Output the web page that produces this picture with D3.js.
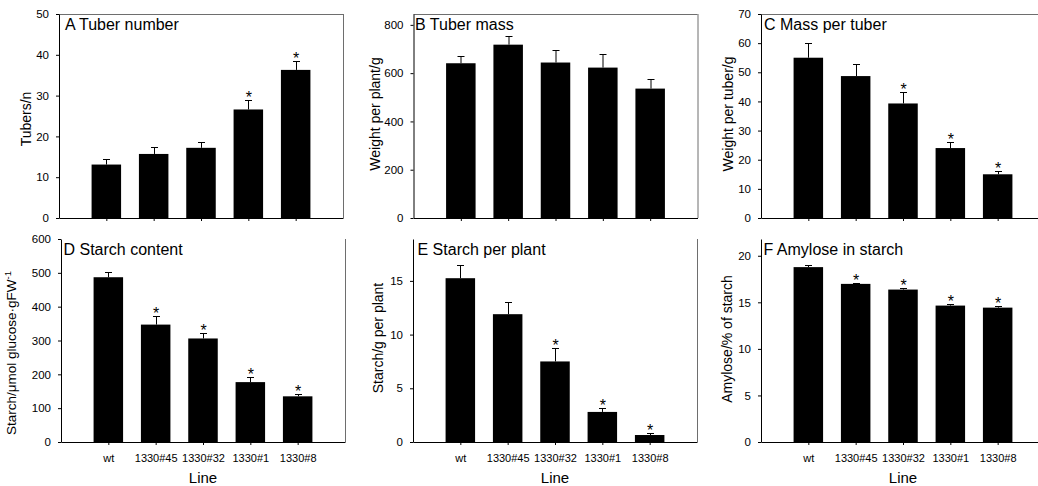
<!DOCTYPE html>
<html>
<head>
<meta charset="utf-8">
<script src="https://cdn.jsdelivr.net/npm/d3@7"></script>
<style>
  html, body { margin: 0; padding: 0; background: #fff; }
  svg { display: block; font-family: "Liberation Sans", Arial, sans-serif; }
</style>
</head>
<body>
<script>
// Transgenic potato lines compared with wild type
const lines = ["wt", "1330#45", "1330#32", "1330#1", "1330#8"];

// A: tuber number per plant
const tuberNumber = [13.1, 15.7, 17.2, 26.6, 36.3];
const tuberNumberErr = [1.3, 1.6, 1.4, 2.3, 2.1];
const tuberNumberSig = [false, false, false, true, true];
const tuberNumberTicks = [0, 10, 20, 30, 40, 50];

// B: tuber mass per plant (g)
const tuberMass = [641, 718, 644, 623, 536];
const tuberMassErr = [31, 34, 50, 56, 39];
const tuberMassSig = [false, false, false, false, false];
const tuberMassTicks = [0, 200, 400, 600, 800];

// C: mass per tuber (g)
const massPerTuber = [55.0, 48.7, 39.3, 24.0, 15.0];
const massPerTuberErr = [4.9, 4.0, 3.9, 2.0, 1.0];
const massPerTuberSig = [false, false, true, true, true];
const massPerTuberTicks = [0, 10, 20, 30, 40, 50, 60, 70];

// D: starch content (µmol glucose per g FW)
const starchContent = [487, 347, 306, 177, 135];
const starchContentErr = [14, 24, 16, 14, 7];
const starchContentSig = [false, true, true, true, true];
const starchContentTicks = [0, 100, 200, 300, 400, 500, 600];

// E: starch per plant (g)
const starchPerPlant = [15.25, 11.9, 7.5, 2.8, 0.65];
const starchPerPlantErr = [1.2, 1.1, 1.25, 0.4, 0.2];
const starchPerPlantSig = [false, false, true, true, true];
const starchPerPlantTicks = [0, 5, 10, 15];

// F: amylose in starch (%)
const amylose = [18.78, 16.98, 16.37, 14.65, 14.43];
const amyloseErr = [0.2, 0.12, 0.13, 0.15, 0.14];
const amyloseSig = [false, true, true, true, true];
const amyloseTicks = [0, 5, 10, 15, 20];

const W = 1038, H = 486;
const plotW = 284;

const panels = [
  { title: "A Tuber number", ylabel: "Tubers/n", values: tuberNumber, errors: tuberNumberErr, sig: tuberNumberSig, ticks: tuberNumberTicks, yMax: 50,
    left: 59, top: 14, h: 204, row: 0, titleDx: 6, ylabelDx: -33, ylabelCy: 119, ylabelSize: 14 },
  { title: "B Tuber mass", ylabel: "Weight per plant/g", values: tuberMass, errors: tuberMassErr, sig: tuberMassSig, ticks: tuberMassTicks, yMax: 845,
    left: 413.5, top: 14, h: 204, row: 0, titleDx: 1.5, ylabelDx: -38.5, ylabelCy: 114, ylabelSize: 14 },
  { title: "C Mass per tuber", ylabel: "Weight per tuber/g", values: massPerTuber, errors: massPerTuberErr, sig: massPerTuberSig, ticks: massPerTuberTicks, yMax: 70,
    left: 761, top: 14, h: 204, row: 0, titleDx: 3, ylabelDx: -33, ylabelCy: 114, ylabelSize: 14 },
  { title: "D Starch content", ylabel: "Starch/\u03bcmol glucose\u00b7gFW", ylabelSup: "-1", values: starchContent, errors: starchContentErr, sig: starchContentSig, ticks: starchContentTicks, yMax: 600,
    left: 61, top: 239, h: 203, row: 1, titleDx: 2.5, ylabelDx: -50, ylabelCy: 353, ylabelSize: 13.5 },
  { title: "E Starch per plant", ylabel: "Starch/g per plant", values: starchPerPlant, errors: starchPerPlantErr, sig: starchPerPlantSig, ticks: starchPerPlantTicks, yMax: 18.9,
    left: 413, top: 239, h: 203, row: 1, titleDx: 4.5, ylabelDx: -34.5, ylabelCy: 338, ylabelSize: 14 },
  { title: "F Amylose in starch", ylabel: "Amylose/% of starch", values: amylose, errors: amyloseErr, sig: amyloseSig, ticks: amyloseTicks, yMax: 21.8,
    left: 761, top: 239, h: 203, row: 1, titleDx: 2.5, ylabelDx: -33.5, ylabelCy: 339, ylabelSize: 14 }
];

const svg = d3.select("body").append("svg")
  .attr("width", W).attr("height", H)
  .attr("viewBox", `0 0 ${W} ${H}`);

const barW = 29.5;
const capW = 7;
const borderColor = "#6e6e6e";

panels.forEach(p => {
  const g = svg.append("g").attr("transform", `translate(${p.left},${p.top})`);

  const x = d3.scalePoint().domain(lines).range([0, plotW]).padding(1);
  const y = d3.scaleLinear().domain([0, p.yMax]).range([p.h, 0]);

  const rows = lines.map((c, i) => ({ c, v: p.values[i], e: p.errors[i], s: p.sig[i] }));

  // frame: top (upper row only) and right edges
  if (p.row === 0) {
    g.append("line").attr("x1", 0).attr("x2", plotW).attr("y1", 0.5).attr("y2", 0.5)
      .attr("stroke", borderColor).attr("stroke-width", 1);
  }
  g.append("line").attr("x1", plotW + 0.5).attr("x2", plotW + 0.5).attr("y1", 0).attr("y2", p.h)
    .attr("stroke", borderColor).attr("stroke-width", 1);

  // error bars (upper whisker only)
  const eb = g.append("g").attr("stroke", "#000").attr("stroke-width", 1);
  eb.selectAll("line.v").data(rows).join("line").attr("class", "v")
    .attr("x1", d => Math.round(x(d.c)) + 0.5).attr("x2", d => Math.round(x(d.c)) + 0.5)
    .attr("y1", d => y(d.v)).attr("y2", d => Math.round(y(d.v + d.e)) + 0.5);
  eb.selectAll("line.cap").data(rows).join("line").attr("class", "cap")
    .attr("x1", d => Math.round(x(d.c)) + 0.5 - capW / 2).attr("x2", d => Math.round(x(d.c)) + 0.5 + capW / 2)
    .attr("y1", d => Math.round(y(d.v + d.e)) + 0.5).attr("y2", d => Math.round(y(d.v + d.e)) + 0.5);

  // bars
  g.selectAll("rect.bar").data(rows).join("rect").attr("class", "bar")
    .attr("x", d => x(d.c) - barW / 2)
    .attr("width", barW)
    .attr("y", d => y(d.v))
    .attr("height", d => p.h - y(d.v))
    .attr("fill", "#000");

  // significance markers
  g.selectAll("text.sig").data(rows.filter(d => d.s)).join("text").attr("class", "sig")
    .attr("x", d => x(d.c) + 0.5)
    .attr("y", d => y(d.v + d.e) + 3)
    .attr("text-anchor", "middle")
    .attr("font-size", 16)
    .attr("fill", "#000")
    .text("*");

  // y axis
  const yAxis = d3.axisLeft(y).tickValues(p.ticks).tickSize(3).tickSizeOuter(0).tickPadding(7)
    .tickFormat(d3.format("d"));
  const ya = g.append("g").call(yAxis);
  ya.selectAll("text").attr("font-size", 11.5).attr("fill", "#000").attr("font-family", null);
  ya.select(".domain").attr("stroke", "#000");
  ya.selectAll(".tick line").attr("stroke", "#000");

  // x axis
  const xAxis = d3.axisBottom(x).tickSize(3).tickSizeOuter(0).tickPadding(9)
    .tickFormat(d => p.row === 1 ? d : "");
  const xa = g.append("g").attr("transform", `translate(0,${p.h})`).call(xAxis);
  xa.selectAll("text").attr("font-size", 11).attr("fill", "#000").attr("font-family", null);
  xa.select(".domain").attr("stroke", "#000");
  xa.selectAll(".tick line").attr("stroke", "#000");

  // panel title
  g.append("text")
    .attr("x", p.titleDx).attr("y", 15.5)
    .attr("font-size", 16)
    .attr("fill", "#000")
    .text(p.title);

  // y axis title
  const yl = svg.append("text")
    .attr("transform", `translate(${p.left + p.ylabelDx},${p.ylabelCy}) rotate(-90)`)
    .attr("dy", "0.35em")
    .attr("text-anchor", "middle")
    .attr("font-size", p.ylabelSize)
    .attr("fill", "#000");
  yl.append("tspan").text(p.ylabel);
  if (p.ylabelSup) {
    yl.append("tspan").attr("dy", "-0.45em").attr("font-size", 9.5).text(p.ylabelSup);
  }

  // x axis title on the lower row
  if (p.row === 1) {
    svg.append("text")
      .attr("x", p.left + plotW / 2)
      .attr("y", 482.5)
      .attr("text-anchor", "middle")
      .attr("font-size", 15)
      .attr("fill", "#000")
      .text("Line");
  }
});
</script>
</body>
</html>
